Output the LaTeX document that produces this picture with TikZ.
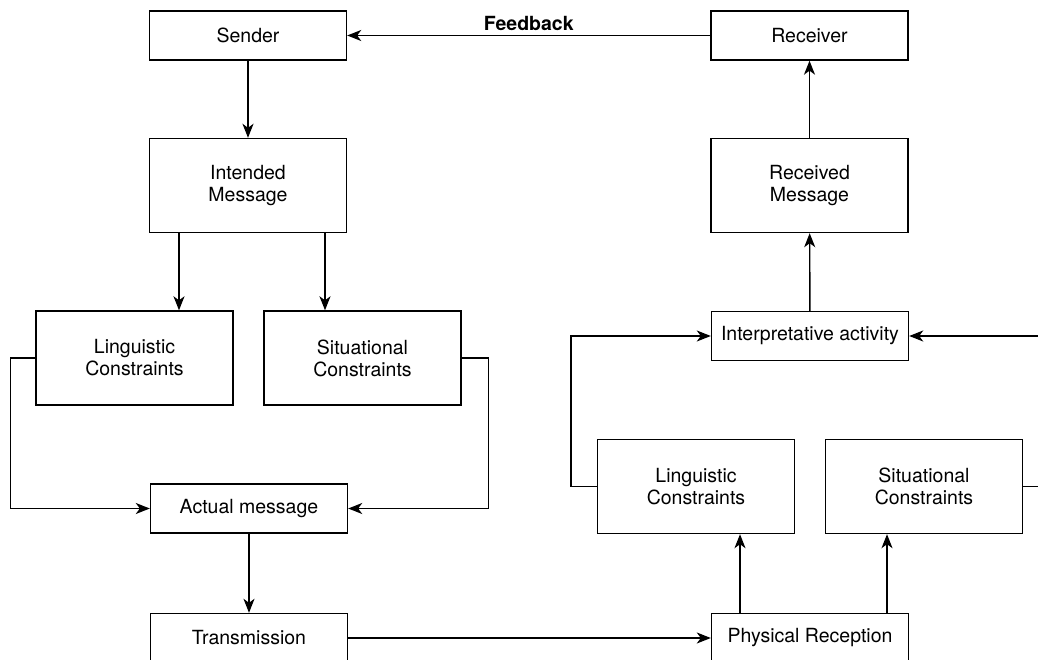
\documentclass[tikz,border=0pt]{standalone}
\usepackage{fontspec}
\setmainfont{TeX Gyre Heros}
\usetikzlibrary{arrows.meta, positioning}
\tikzset{
box/.style={
  draw, rectangle,
  line width=1.4pt,
  inner sep=0pt,
  minimum width=197pt,
  align=center,
  font=\fontsize{19.5}{22}\selectfont
},
short/.style={box, minimum height=49pt},
tall/.style={box, minimum height=94pt},
link/.style={line width=1.4pt, -{Stealth[length=14pt,width=11pt,inset=4pt]}},
}

\begin{document}
\begin{tikzpicture}[x=1pt,y=-1pt]
            \useasboundingbox (0,0) rectangle (1038,660);
            \clip (0,0) rectangle (1038,660);

            \node[short] (sender)   at (248,35.5)  {Sender};
            \node[short] (receiver) at (809.5,35.5) {Receiver};
            \node[tall]  (intended) at (248,185.5) {Intended\\Message};
            \node[tall]  (received) at (809.5,185.5) {Received\\Message};
            \node[tall]  (lingS)    at (134.5,358) {Linguistic\\Constraints};
            \node[tall]  (sitS)     at (362.5,358) {Situational\\Constraints};
            \node[short] (actual)   at (249,508.5) {Actual message};
            \node[short] (trans)    at (249,638)   {Transmission};
            \node[short] (interp)   at (810,336)   {Interpretative activity};
            \node[tall]  (lingR)    at (696,486.5) {Linguistic\\Constraints};
            \node[tall]  (sitR)     at (924,486.5) {Situational\\Constraints};
            \node[short] (physical) at (810,638)   {Physical Reception};
            \coordinate (rim) at (1050,0);

            \draw[link] (receiver) -- node[above, inner sep=4pt,
                font=\fontsize{19.5}{22}\selectfont\bfseries] {Feedback} (sender);
            \draw[link] (sender) -- (intended);
            \draw[link] ([xshift=-69pt]intended.south) -- ([xshift=-69pt]intended.south |- lingS.north);
            \draw[link] ([xshift=77pt]intended.south) -- ([xshift=77pt]intended.south |- sitS.north);
            \draw[link] (lingS.west) -- ++(-25,0) |- (actual.west);
            \draw[link] (sitS.east) -- ++(27,0) |- (actual.east);
            \draw[link] (actual) -- (trans);
            \draw[link] (trans) -- (physical);

            \draw[link] ([xshift=-70pt]physical.north) -- ([xshift=-70pt]physical.north |- lingR.south);
            \draw[link] ([xshift=77pt]physical.north) -- ([xshift=77pt]physical.north |- sitR.south);
            \draw[link] (lingR.west) -- ++(-26,0) |- (interp.west);
            \draw[link] (sitR.east) -- (sitR.east -| rim) -- (interp.east -| rim) -- (interp.east);
            \draw[link] (interp) -- (received);
            \draw[link] (received) -- (receiver);
        \end{tikzpicture}
\end{document}
